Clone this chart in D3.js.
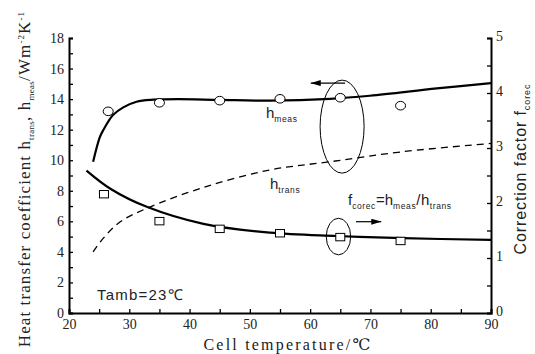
<!DOCTYPE html>
<html><head><meta charset="utf-8">
<script src="https://cdn.jsdelivr.net/npm/d3@7"></script>
<style>body{margin:0;background:#fff}svg{display:block}</style>
</head><body>
<svg id="c" width="535" height="354"></svg>
<script>
// ---- data ----
const xTicks = [20,30,40,50,60,70,80,90];
const yLeftTicks = [0,2,4,6,8,10,12,14,16,18];
const yRightTicks = [0,1,2,3,4,5];
const measX = [26.5,35,45,55,65,75];
const measY = [13.2,13.76,13.9,14.02,14.09,13.57];
const corecX = [25.8,35,45,55,65,75];
const corecY = [2.16,1.67,1.53,1.45,1.38,1.31];
const hMeasLineX = [24,25.1,25.7,26.8,27.3,29,31.2,34,38,45,53.3,63.3,69.9,81,90];
const hMeasLineY = [9.9,11.5,11.98,12.7,12.96,13.46,13.83,13.96,14.0,13.95,13.9,14.02,14.22,14.7,15.05];
const hTransLineX = [24,25.7,28.5,32.9,42.3,53.3,63.3,75.4,90];
const hTransLineY = [4.0,4.9,5.97,6.85,8.22,9.36,9.9,10.56,11.1];
const fLineX = [22.9,27,32.9,42.3,53.3,64.4,75.4,90];
const fLineY = [2.59,2.25,1.93,1.62,1.46,1.4,1.36,1.33];

const svg = d3.select("#c");
const x = d3.scaleLinear().domain([20,90]).range([69,491]);
const yL = d3.scaleLinear().domain([0,18]).range([313,38]);
const yR = d3.scaleLinear().domain([0,5]).range([313,38]);
const serif = "'Liberation Serif','DejaVu Serif',serif";
const sans = "'Liberation Sans',Arial,sans-serif";

// axes
svg.append("g").attr("transform","translate(0,313)")
  .call(d3.axisBottom(x).tickValues(d3.range(20,91,5)).tickSize(-4).tickFormat(""));
svg.append("g").attr("transform","translate(0,313)")
  .call(d3.axisBottom(x).tickValues(xTicks).tickSize(0).tickPadding(6).tickFormat(d3.format("d")))
  .call(g=>g.select(".domain").remove());
svg.append("g").attr("transform","translate(69,0)")
  .call(d3.axisLeft(yL).tickValues(d3.range(0,19,1)).tickSize(-4).tickFormat(""));
svg.append("g").attr("transform","translate(69,0)")
  .call(d3.axisLeft(yL).tickValues(yLeftTicks).tickSize(0).tickPadding(5).tickFormat(d3.format("d")))
  .call(g=>g.select(".domain").remove());
svg.append("g").attr("transform","translate(491,0)")
  .call(d3.axisRight(yR).tickValues(d3.range(0,5.01,0.5)).tickSize(-4).tickFormat(""));
const ra = svg.append("g").attr("transform","translate(491,0)")
  .call(d3.axisRight(yR).tickValues(yRightTicks).tickSize(0).tickPadding(5).tickFormat(d3.format("d")))
  .call(g=>g.select(".domain").remove());
svg.selectAll(".domain").attr("stroke","#000").attr("stroke-width",2);
svg.selectAll(".tick line").attr("stroke","#000").attr("stroke-width",1.3);
svg.selectAll(".tick text").attr("font-family",serif).attr("font-size",14).attr("fill","#222");
ra.selectAll(".tick text").attr("dy","0.2em");

// lines
const crv = d3.curveCatmullRom.alpha(0.5);
const lineL = (xs,ys)=>d3.line().x((d,i)=>x(xs[i])).y((d,i)=>yL(ys[i])).curve(crv)(xs);
const lineR = (xs,ys)=>d3.line().x((d,i)=>x(xs[i])).y((d,i)=>yR(ys[i])).curve(crv)(xs);
svg.append("path").attr("d",lineL(hMeasLineX,hMeasLineY)).attr("fill","none").attr("stroke","#000").attr("stroke-width",2.2);
svg.append("path").attr("d",lineL(hTransLineX,hTransLineY)).attr("fill","none").attr("stroke","#000").attr("stroke-width",1.3).attr("stroke-dasharray","7,5");
svg.append("path").attr("d",lineR(fLineX,fLineY)).attr("fill","none").attr("stroke","#000").attr("stroke-width",2.2);

// markers
svg.selectAll("ellipse.m").data(measX).enter().append("ellipse")
  .attr("cx",(d)=>x(d)).attr("cy",(d,i)=>yL(measY[i])).attr("rx",5).attr("ry",4.3)
  .attr("fill","#fff").attr("stroke","#000").attr("stroke-width",1);
svg.selectAll("rect.s").data(corecX).enter().append("rect")
  .attr("x",(d)=>x(d)-4.5).attr("y",(d,i)=>yR(corecY[i])-3.7).attr("width",9).attr("height",7.4)
  .attr("fill","#fff").attr("stroke","#000").attr("stroke-width",1);

// annotations
svg.append("ellipse").attr("cx",x(65.3)).attr("cy",yL(12.2)).attr("rx",22).attr("ry",46.5)
  .attr("fill","none").attr("stroke","#000").attr("stroke-width",1);
svg.append("ellipse").attr("cx",x(64.7)).attr("cy",yR(1.39)).attr("rx",12.2).attr("ry",18.3)
  .attr("fill","none").attr("stroke","#000").attr("stroke-width",1);
svg.append("defs").append("marker").attr("id","ah").attr("viewBox","0 0 10 6")
  .attr("refX",10).attr("refY",3).attr("markerWidth",10).attr("markerHeight",6).attr("markerUnits","userSpaceOnUse")
  .attr("orient","auto").append("path").attr("d","M0,0L10,3L0,6Z").attr("fill","#000");
svg.append("line").attr("x1",x(65.8)).attr("x2",x(60.1)).attr("y1",yL(15.05)).attr("y2",yL(15.05))
  .attr("stroke","#000").attr("stroke-width",1.2).attr("marker-end","url(#ah)");
svg.append("line").attr("x1",x(67.6)).attr("x2",x(71.8)).attr("y1",yR(1.66)).attr("y2",yR(1.66))
  .attr("stroke","#000").attr("stroke-width",1.2).attr("marker-end","url(#ah)");

function sub(xx, yy, main, s){
  const te = svg.append("text").attr("x",xx).attr("y",yy).attr("font-family",sans).attr("font-size",15).attr("fill","#222");
  te.append("tspan").text(main);
  te.append("tspan").attr("dy",4).attr("font-size",8.5).attr("letter-spacing",0.6).text(s);
  return te;
}
sub(266,118,"h","meas");
sub(270,189,"h","trans");
const f = svg.append("text").attr("x",348).attr("y",205).attr("font-family",sans).attr("font-size",15).attr("fill","#222");
f.append("tspan").text("f");
f.append("tspan").attr("dy",4).attr("font-size",8.5).attr("letter-spacing",0.6).text("corec");
f.append("tspan").attr("dy",-4).text("=h");
f.append("tspan").attr("dy",4).attr("font-size",8.5).attr("letter-spacing",0.6).text("meas");
f.append("tspan").attr("dy",-4).attr("letter-spacing",0.5).text("/h");
f.append("tspan").attr("dy",4).attr("font-size",8.5).attr("letter-spacing",0.6).text("trans");
svg.append("text").attr("x",97).attr("y",300).attr("font-family",sans).attr("font-size",15).attr("fill","#222")
  .attr("letter-spacing",1.2).text("Tamb=23\u2103");

// axis titles
svg.append("text").attr("x",288).attr("y",350).attr("text-anchor","middle").attr("font-family",serif)
  .attr("font-size",16).attr("letter-spacing",2.2).attr("fill","#222").text("Cell temperature/\u2103");
const lt = svg.append("text").attr("transform","translate(30,179) rotate(-90)").attr("text-anchor","middle")
  .attr("font-family",serif).attr("font-size",17).attr("letter-spacing",1.1).attr("fill","#222");
lt.append("tspan").text("Heat transfer coefficient h");
lt.append("tspan").attr("dy",4).attr("font-size",9).attr("letter-spacing",0.3).text("trans");
lt.append("tspan").attr("dy",-4).text(", h");
lt.append("tspan").attr("dy",4).attr("font-size",9).attr("letter-spacing",0.3).text("meas");
lt.append("tspan").attr("dy",-4).text("/Wm");
lt.append("tspan").attr("dy",-6).attr("font-size",9).text("-2");
lt.append("tspan").attr("dy",6).text("K");
lt.append("tspan").attr("dy",-6).attr("font-size",9).text("-1");
const rt = svg.append("text").attr("transform","translate(526,169) rotate(-90)").attr("text-anchor","middle")
  .attr("font-family",sans).attr("font-size",16).attr("letter-spacing",0.9).attr("fill","#222");
rt.append("tspan").text("Correction factor f");
rt.append("tspan").attr("dy",4).attr("font-size",9).text("corec");
</script>
</body></html>
